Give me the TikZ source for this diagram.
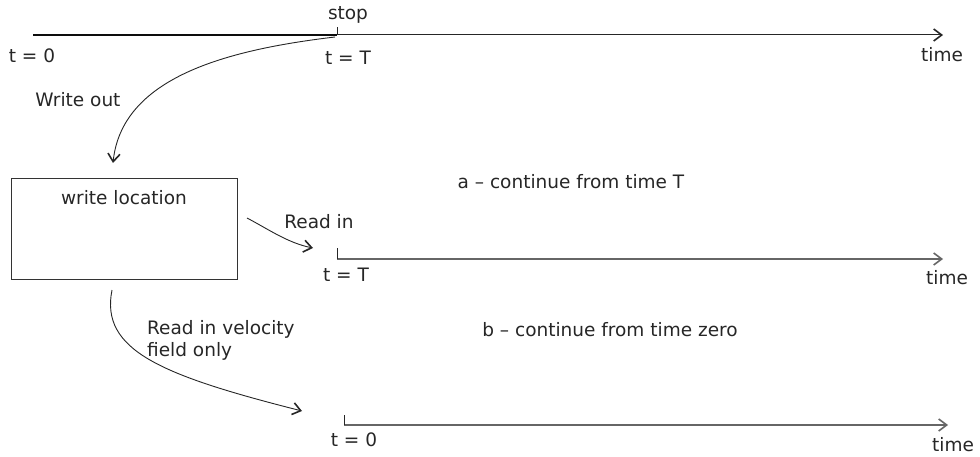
\documentclass[tikz,border=0pt]{standalone}
\usepackage{fontspec}
\setmainfont{DejaVu Sans}
\usetikzlibrary{arrows.meta, positioning}

\begin{document}
\begin{tikzpicture}[
  x=1pt, y=-1pt,
  lbl/.style={inner sep=0pt, font=\fontsize{18.5}{22}\selectfont, text=black!85},
  locbox/.style={rectangle, draw=black!80, line width=1pt, minimum width=226pt, minimum height=101pt, inner sep=0pt},
  arr/.style={-{Straight Barb[length=8pt, width=12pt, line width=1.6pt]}, line width=0.9pt, black!85},
  axis/.style={-{Straight Barb[length=8pt, width=12pt, line width=1.6pt]}, line width=1pt, black!85},
  gaxis/.style={-{Straight Barb[length=8pt, width=12pt, line width=1.6pt]}, line width=1.6pt, black!60},
  tick/.style={line width=1pt, black!85},
]
\useasboundingbox (0,0) rectangle (980,457);

% first run: 0 .. T, then stopped
\coordinate (start0) at (33,35);
\coordinate (stop)   at (337,35);
\coordinate (stoptop) at (337,27);
\coordinate (end0)   at (943,35);
\draw[line width=2.8pt, black!95] (start0) -- (stop);
\draw[axis] (stop) -- (end0);
\draw[tick] (stop) -- (stoptop);
\node[lbl] (stoplbl) at (348,15) {stop};
\node[lbl] (t0a)   at (32,56)  {t = 0};
\node[lbl] (tTa)   at (348,58) {t = T};
\node[lbl] (time0) at (942,55) {time};

% restart location
\node[locbox] (loc) at (124,229) {};
\node[lbl, below=12pt of loc.north] (loclbl) {write location};

% run a: from time T
\coordinate (starta) at (337,259);
\coordinate (ticka)  at (337,248);
\coordinate (enda)   at (943,259);
\draw[gaxis] (starta) -- (enda);
\draw[tick] (starta) -- (ticka);
\node[lbl] (tTb)   at (346,275) {t = T};
\node[lbl] (timea) at (947,278) {time};
\node[lbl] (capa)  at (571,182) {a -- continue from time T};

% run b: from time zero
\coordinate (startb) at (344,425);
\coordinate (tickb)  at (344,415);
\coordinate (endb)   at (948,425);
\draw[gaxis] (startb) -- (endb);
\draw[tick] (startb) -- (tickb);
\node[lbl] (t0b)   at (354,440) {t = 0};
\node[lbl] (timeb) at (953,445) {time};
\node[lbl] (capb)  at (610,330) {b -- continue from time zero};

% write / read arrows
\coordinate (wout)  at (335,37);
\coordinate (wtip)  at (113,163);
\coordinate (rin)   at (247,218);
\coordinate (rtip)  at (313,248);
\coordinate (vin)   at (112,290);
\coordinate (vtip)  at (302,411);
\draw[arr] (wout) .. controls (225,50) and (122,78) .. (wtip);
\draw[arr] (rin) .. controls (268,229) and (288,243) .. (rtip);
\draw[arr] (vin) .. controls (100,350) and (160,375) .. (vtip);
\node[lbl] (woutlbl) at (78,100)  {Write out};
\node[lbl] (rinlbl)  at (319,222) {Read in};
\node[lbl, align=left, anchor=north west] (vinlbl) at (147,320) {Read in velocity\\field only};
\end{tikzpicture}
\end{document}
